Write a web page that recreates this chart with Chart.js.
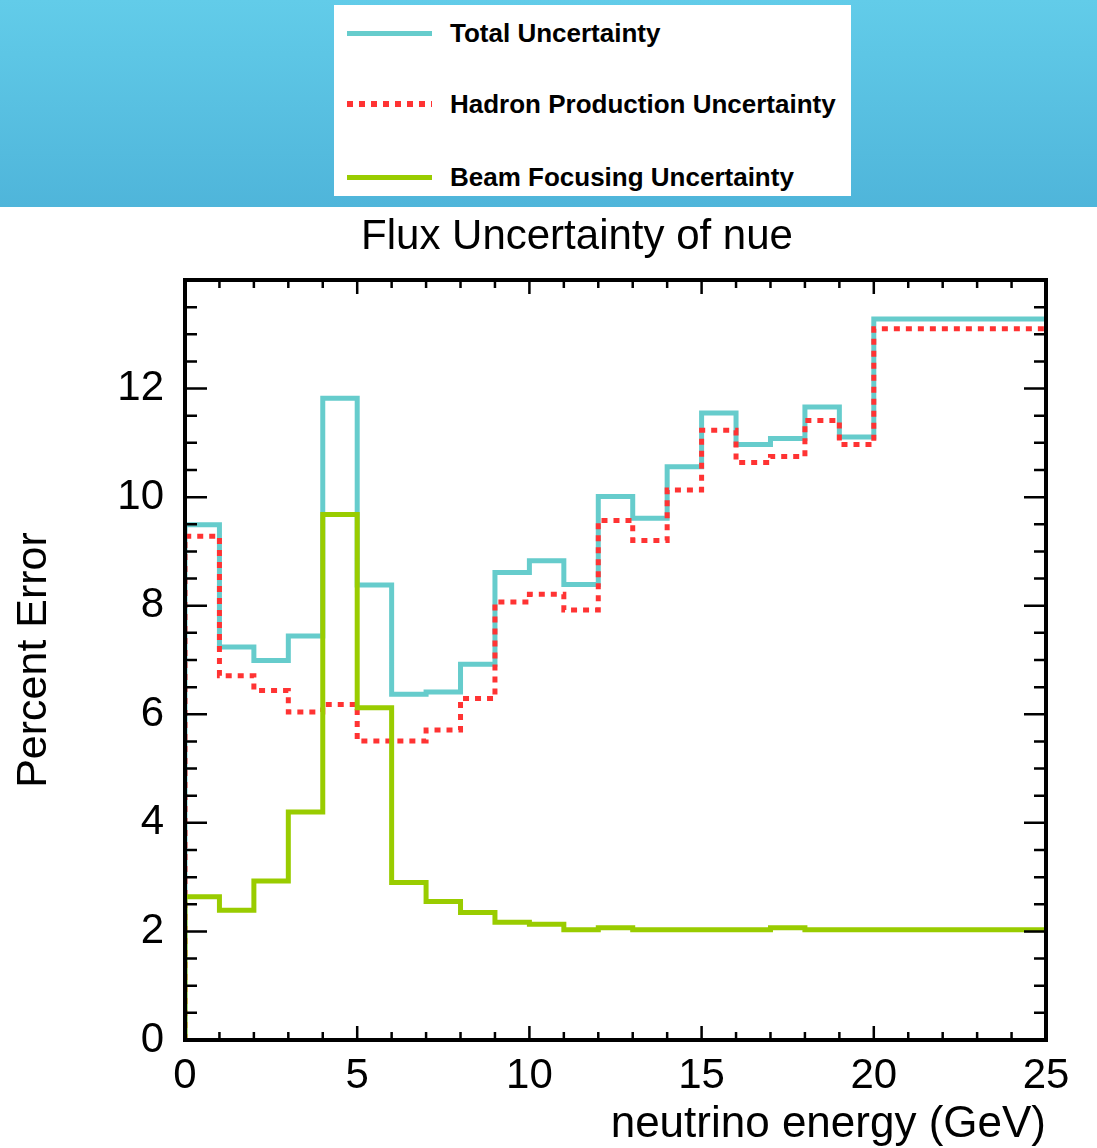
<!DOCTYPE html>
<html>
<head>
<meta charset="utf-8">
<script src="https://cdn.jsdelivr.net/npm/chart.js@4.4.1/dist/chart.umd.min.js"></script>
<style>
  body { margin: 0; background: #fff; font-family: "Liberation Sans", Arial, Helvetica, sans-serif; }
  #banner { position: relative; width: 1097px; height: 207px; background: linear-gradient(#62cce9, #4fb5da); }
  #legend { position: absolute; left: 334px; top: 5px; width: 517px; height: 191px; background: #fff; }
  .item { position: absolute; left: 0; height: 30px; }
  .sample { position: absolute; left: 13px; width: 85px; }
  .label { position: absolute; left: 116px; top: 0; font-weight: bold; font-size: 26px; line-height: 30px; color: #000; white-space: nowrap; }
  #wrap { width: 1097px; height: 940px; }
</style>
</head>
<body>
<div id="banner">
  <div id="legend"></div>
</div>
<div id="wrap"><canvas id="fluxChart"></canvas></div>
<script>
// bin edges in GeV (last bin is 20-25)
const binEdges = [0, 1, 2, 3, 4, 5, 6, 7, 8, 9, 10, 11, 12, 13, 14, 15, 16, 17, 18, 19, 20, 25];

// percent error per bin
const totalUnc = [9.49, 7.24, 6.99, 7.44, 11.82, 8.38, 6.37, 6.41, 6.92, 8.61, 8.83, 8.39, 10.01, 9.61, 10.56, 11.55, 10.97, 11.08, 11.66, 11.11, 13.28];
const hadronUnc = [9.28, 6.71, 6.44, 6.04, 6.18, 5.51, 5.51, 5.71, 6.29, 8.07, 8.21, 7.92, 9.57, 9.20, 10.13, 11.23, 10.64, 10.75, 11.41, 10.97, 13.10];
const beamUnc = [2.64, 2.39, 2.93, 4.20, 9.68, 6.12, 2.90, 2.55, 2.35, 2.17, 2.13, 2.03, 2.07, 2.03, 2.03, 2.03, 2.03, 2.07, 2.03, 2.03, 2.03];

const seriesNames = ['Total Uncertainty', 'Hadron Production Uncertainty', 'Beam Focusing Uncertainty'];
const seriesColors = ['#66cccc', '#ff3333', '#99cc00'];

const xTicks = [0, 5, 10, 15, 20, 25];
const yTicks = [0, 2, 4, 6, 8, 10, 12];

const chartTitle = 'Flux Uncertainty of nue';

// histogram outline: start at baseline, one point per bin edge
function histPoints(vals) {
  const pts = [{ x: binEdges[0], y: 0 }];
  vals.forEach((v, i) => pts.push({ x: binEdges[i], y: v }));
  pts.push({ x: binEdges[binEdges.length - 1], y: vals[vals.length - 1] });
  return pts;
}

// html legend in the banner
const legendEl = document.getElementById('legend');
const legendY = [13, 84, 157];
seriesNames.forEach((name, i) => {
  const item = document.createElement('div');
  item.className = 'item';
  item.style.top = legendY[i] + 'px';
  const s = document.createElement('div');
  s.className = 'sample';
  if (i === 1) {
    s.style.top = '12px';
    s.style.height = '6px';
    s.style.background = 'repeating-linear-gradient(to right, ' + seriesColors[i] + ' 0 6px, transparent 6px 12px)';
  } else {
    s.style.top = '13px';
    s.style.height = '5px';
    s.style.background = seriesColors[i];
  }
  const t = document.createElement('div');
  t.className = 'label';
  t.textContent = name;
  item.appendChild(s);
  item.appendChild(t);
  legendEl.appendChild(item);
});

// title sits a bit left of the plot centre, like the original
const titlePlugin = {
  id: 'offsetTitle',
  afterDraw(chart) {
    const { ctx } = chart;
    ctx.save();
    ctx.fillStyle = '#000';
    ctx.font = '42px "Liberation Sans", Arial, Helvetica, sans-serif';
    ctx.textAlign = 'center';
    ctx.textBaseline = 'middle';
    ctx.fillText(chartTitle, 577, 30);
    ctx.restore();
  }
};

// frame + inward ticks, ROOT style
const frameTicks = {
  id: 'frameTicks',
  afterDatasetsDraw(chart) {
    const { ctx, chartArea: a, scales: { x, y } } = chart;
    ctx.save();
    ctx.strokeStyle = '#000';
    ctx.lineWidth = 2.5;
    ctx.beginPath();
    for (let v = 0; v <= 25; v += 1) {
      const px = x.getPixelForValue(v);
      const len = v % 5 === 0 ? 14 : 8;
      ctx.moveTo(px, a.bottom); ctx.lineTo(px, a.bottom - len);
      ctx.moveTo(px, a.top); ctx.lineTo(px, a.top + len);
    }
    for (let v = 0; v <= 14; v += 0.5) {
      const py = y.getPixelForValue(v);
      const len = v % 2 === 0 ? 22 : 12;
      ctx.moveTo(a.left, py); ctx.lineTo(a.left + len, py);
      ctx.moveTo(a.right, py); ctx.lineTo(a.right - len, py);
    }
    ctx.stroke();
    ctx.lineWidth = 4;
    ctx.strokeRect(a.left, a.top, a.right - a.left, a.bottom - a.top);
    ctx.restore();
  }
};

Chart.defaults.color = '#000';
Chart.defaults.font.family = '"Liberation Sans", Arial, Helvetica, sans-serif';

new Chart(document.getElementById('fluxChart').getContext('2d'), {
  type: 'line',
  data: {
    datasets: [
      { label: seriesNames[0], data: histPoints(totalUnc), borderColor: seriesColors[0], borderWidth: 5, stepped: true, pointRadius: 0, fill: false, order: 3 },
      { label: seriesNames[1], data: histPoints(hadronUnc), borderColor: seriesColors[1], borderWidth: 5, borderDash: [6, 6], stepped: true, pointRadius: 0, fill: false, order: 2 },
      { label: seriesNames[2], data: histPoints(beamUnc), borderColor: seriesColors[2], borderWidth: 5, stepped: true, pointRadius: 0, fill: false, order: 1 }
    ]
  },
  options: {
    responsive: true,
    maintainAspectRatio: false,
    animation: false,
    layout: { padding: { top: 73, right: 51, bottom: 0, left: 0 } },
    plugins: {
      legend: { display: false },
      tooltip: { enabled: false },
      title: { display: false }
    },
    scales: {
      x: {
        type: 'linear',
        min: 0,
        max: 25,
        grid: { display: false, drawTicks: false },
        border: { display: false },
        afterBuildTicks: (scale) => { scale.ticks = xTicks.map(v => ({ value: v })); },
        ticks: { font: { size: 42 }, padding: 11, maxRotation: 0, autoSkip: false },
        title: {
          display: true,
          text: 'neutrino energy (GeV)',
          align: 'end',
          font: { size: 44, lineHeight: 1 },
          padding: { top: 0, bottom: 0 }
        },
        afterFit: (scale) => { scale.height = 107; }
      },
      y: {
        min: 0,
        max: 14,
        grid: { display: false, drawTicks: false },
        border: { display: false },
        afterBuildTicks: (scale) => { scale.ticks = yTicks.map(v => ({ value: v })); },
        ticks: { font: { size: 42 }, padding: 21, autoSkip: false },
        title: {
          display: true,
          text: 'Percent Error',
          font: { size: 43, lineHeight: 1 },
          padding: { top: 12.5, bottom: 0 }
        },
        afterFit: (scale) => { scale.width = 185; }
      }
    }
  },
  plugins: [frameTicks, titlePlugin]
});
</script>
</body>
</html>
